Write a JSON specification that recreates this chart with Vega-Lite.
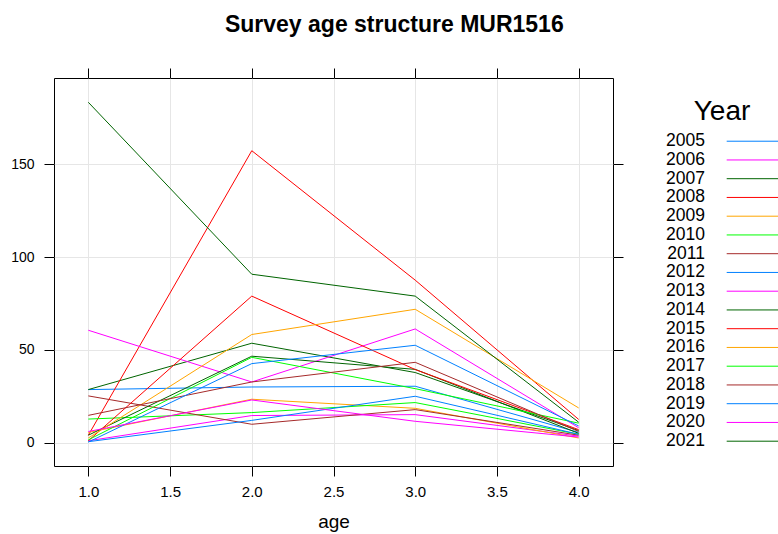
{
  "$schema": "https://vega.github.io/schema/vega-lite/v6.json",
  "padding": {"left": 10, "top": 14, "right": 0, "bottom": 0},
  "background": "white",
  "title": {"text": "Survey age structure MUR1516", "fontSize": 23, "fontWeight": "bold", "font": "Liberation Sans", "anchor": "middle", "offset": 30, "color": "#000"},
  "config": {
    "view": {"stroke": null},
    "font": "Liberation Sans",
    "axis": {
      "labelFont": "Liberation Sans", "titleFont": "Liberation Sans",
      "labelColor": "#000", "titleColor": "#000",
      "tickColor": "#000", "tickSize": 10, "tickWidth": 1,
      "domain": false, "gridColor": "#e6e6e6", "gridWidth": 1
    }
  },
  "datasets": {
    "survey": [
      {"year": "2005", "age": 1, "value": 28.6}, {"year": "2005", "age": 2, "value": 30.0}, {"year": "2005", "age": 3, "value": 30.4}, {"year": "2005", "age": 4, "value": 5.5},
      {"year": "2006", "age": 1, "value": 1.0}, {"year": "2006", "age": 2, "value": 14.6}, {"year": "2006", "age": 3, "value": 15.1}, {"year": "2006", "age": 4, "value": 3.5},
      {"year": "2007", "age": 1, "value": 28.6}, {"year": "2007", "age": 2, "value": 53.6}, {"year": "2007", "age": 3, "value": 37.8}, {"year": "2007", "age": 4, "value": 6.5},
      {"year": "2008", "age": 1, "value": 4.0}, {"year": "2008", "age": 2, "value": 157.4}, {"year": "2008", "age": 3, "value": 87.6}, {"year": "2008", "age": 4, "value": 12.5},
      {"year": "2009", "age": 1, "value": 5.5}, {"year": "2009", "age": 2, "value": 23.4}, {"year": "2009", "age": 3, "value": 18.5}, {"year": "2009", "age": 4, "value": 2.5},
      {"year": "2010", "age": 1, "value": 12.7}, {"year": "2010", "age": 2, "value": 16.2}, {"year": "2010", "age": 3, "value": 21.6}, {"year": "2010", "age": 4, "value": 4.5},
      {"year": "2011", "age": 1, "value": 25.2}, {"year": "2011", "age": 2, "value": 9.9}, {"year": "2011", "age": 3, "value": 17.8}, {"year": "2011", "age": 4, "value": 4.0},
      {"year": "2012", "age": 1, "value": 0.5}, {"year": "2012", "age": 2, "value": 12.0}, {"year": "2012", "age": 3, "value": 25.0}, {"year": "2012", "age": 4, "value": 4.5},
      {"year": "2013", "age": 1, "value": 60.6}, {"year": "2013", "age": 2, "value": 32.7}, {"year": "2013", "age": 3, "value": 61.3}, {"year": "2013", "age": 4, "value": 8.0},
      {"year": "2014", "age": 1, "value": 4.0}, {"year": "2014", "age": 2, "value": 46.6}, {"year": "2014", "age": 3, "value": 39.5}, {"year": "2014", "age": 4, "value": 5.0},
      {"year": "2015", "age": 1, "value": 1.0}, {"year": "2015", "age": 2, "value": 79.0}, {"year": "2015", "age": 3, "value": 39.4}, {"year": "2015", "age": 4, "value": 7.0},
      {"year": "2016", "age": 1, "value": 2.5}, {"year": "2016", "age": 2, "value": 58.3}, {"year": "2016", "age": 3, "value": 71.9}, {"year": "2016", "age": 4, "value": 18.7},
      {"year": "2017", "age": 1, "value": 1.5}, {"year": "2017", "age": 2, "value": 46.0}, {"year": "2017", "age": 3, "value": 29.1}, {"year": "2017", "age": 4, "value": 10.5},
      {"year": "2018", "age": 1, "value": 14.7}, {"year": "2018", "age": 2, "value": 32.7}, {"year": "2018", "age": 3, "value": 43.3}, {"year": "2018", "age": 4, "value": 6.0},
      {"year": "2019", "age": 1, "value": 0.3}, {"year": "2019", "age": 2, "value": 42.6}, {"year": "2019", "age": 3, "value": 52.5}, {"year": "2019", "age": 4, "value": 9.0},
      {"year": "2020", "age": 1, "value": 6.0}, {"year": "2020", "age": 2, "value": 23.0}, {"year": "2020", "age": 3, "value": 11.5}, {"year": "2020", "age": 4, "value": 3.0},
      {"year": "2021", "age": 1, "value": 183.5}, {"year": "2021", "age": 2, "value": 90.8}, {"year": "2021", "age": 3, "value": 79.0}, {"year": "2021", "age": 4, "value": 11.0}
    ]
  },
  "bounds": "flush",
  "spacing": 27,
  "hconcat": [
    {
      "width": 559,
      "height": 388,
      "data": {"name": "survey"},
      "view": {"stroke": "#000", "strokeWidth": 1},
      "layer": [
        {
          "mark": {"type": "line", "strokeWidth": 1, "clip": true},
          "encoding": {
            "x": {"field": "age", "type": "quantitative",
                  "scale": {"domain": [0.79, 4.21], "nice": false, "zero": false},
                  "axis": {"values": [1, 1.5, 2, 2.5, 3, 3.5, 4], "format": ".1f", "title": "age", "grid": true,
                           "labelFontSize": 15, "labelPadding": 8, "titleFontSize": 19, "titleFontWeight": "normal", "titlePadding": 13}},
            "y": {"field": "value", "type": "quantitative",
                  "scale": {"domain": [-12.6, 196.6], "nice": false, "zero": false},
                  "axis": {"values": [0, 50, 100, 150], "title": null, "grid": true,
                           "labelFontSize": 14, "labelPadding": 10}},
            "color": {"field": "year", "type": "nominal",
                      "scale": {"domain": ["2005","2006","2007","2008","2009","2010","2011","2012","2013","2014","2015","2016","2017","2018","2019","2020","2021"],
                                "range": ["#0080ff","#ff00ff","#006400","#ff0000","#ffa500","#00ff00","#a52a2a","#0080ff","#ff00ff","#006400","#ff0000","#ffa500","#00ff00","#a52a2a","#0080ff","#ff00ff","#006400"]},
                      "legend": null}
          }
        },
        {
          "mark": {"type": "point", "opacity": 0},
          "encoding": {
            "x": {"field": "age", "type": "quantitative",
                  "scale": {"domain": [0.79, 4.21], "nice": false, "zero": false},
                  "axis": {"orient": "top", "values": [1, 1.5, 2, 2.5, 3, 3.5, 4], "labels": false, "title": null, "grid": false}},
            "y": {"field": "value", "type": "quantitative",
                  "scale": {"domain": [-12.6, 196.6], "nice": false, "zero": false},
                  "axis": {"orient": "right", "values": [0, 50, 100, 150], "labels": false, "title": null, "grid": false}}
          }
        }
      ],
      "resolve": {"scale": {"x": "independent", "y": "independent"}, "axis": {"x": "independent", "y": "independent"}}
    },
    {
      "width": 138,
      "height": 388,
      "data": {"name": "survey"},
      "transform": [{"filter": "datum.age == 1"}],
      "title": {"text": "Year", "fontSize": 28, "fontWeight": "normal", "font": "Liberation Sans", "color": "#000", "anchor": "middle", "baseline": "alphabetic", "offset": 0, "dy": 70, "dx": 13},
      "layer": [
        {
          "mark": {"type": "text", "align": "right", "baseline": "middle", "fontSize": 17.5, "font": "Liberation Sans", "color": "#000"},
          "encoding": {
            "x": {"datum": 65, "type": "quantitative", "scale": {"domain": [0, 138], "nice": false, "zero": false}, "axis": null},
            "y": {"field": "year", "type": "quantitative", "scale": {"domain": [2001.629, 2022.323], "nice": false, "zero": false, "reverse": true}, "axis": null},
            "text": {"field": "year", "type": "nominal"}
          }
        },
        {
          "mark": {"type": "rule", "strokeWidth": 1},
          "encoding": {
            "x": {"datum": 86.7, "type": "quantitative", "scale": {"domain": [0, 138], "nice": false, "zero": false}, "axis": null},
            "x2": {"datum": 138},
            "y": {"field": "year", "type": "quantitative", "scale": {"domain": [2001.629, 2022.323], "nice": false, "zero": false, "reverse": true}, "axis": null},
            "color": {"field": "year", "type": "nominal",
                      "scale": {"domain": ["2005","2006","2007","2008","2009","2010","2011","2012","2013","2014","2015","2016","2017","2018","2019","2020","2021"],
                                "range": ["#0080ff","#ff00ff","#006400","#ff0000","#ffa500","#00ff00","#a52a2a","#0080ff","#ff00ff","#006400","#ff0000","#ffa500","#00ff00","#a52a2a","#0080ff","#ff00ff","#006400"]},
                      "legend": null}
          }
        }
      ]
    }
  ]
}
